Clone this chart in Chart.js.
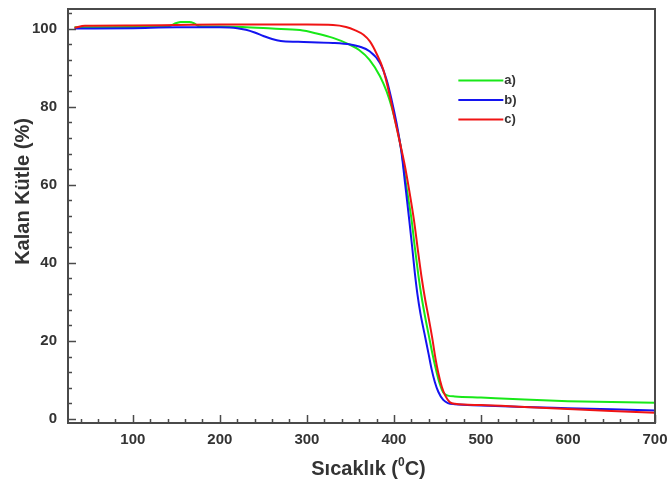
<!DOCTYPE html>
<html>
<head>
<meta charset="utf-8">
<script src="https://cdn.jsdelivr.net/npm/chart.js@4/dist/chart.umd.min.js"></script>
<style>
  html, body { margin: 0; padding: 0; background: #fff; }
  #wrap { width: 672px; height: 486px; }
</style>
</head>
<body>
<div id="wrap"><canvas id="tga" width="672" height="486"></canvas></div>
<script>
// Thermogravimetric curves: remaining mass (%) against temperature (°C)
const seriesNames = ['a)', 'b)', 'c)'];
const seriesColors = ['#18e818', '#1414f0', '#f01414'];

const tempA = [33, 100, 140, 150, 155, 165, 170, 176, 200, 226, 260, 292, 310, 330, 349, 360, 372, 384, 391.6, 397.3, 403, 408.8, 414, 420.3, 424, 428, 432, 436, 440, 444, 448, 452, 456.7, 462, 470, 500, 550, 600, 650, 700];
const massA = [100.3, 100.4, 100.5, 101.4, 101.7, 101.7, 101.4, 100.6, 100.5, 100.4, 100.0, 99.6, 98.8, 97.6, 95.9, 94.5, 92.0, 87.8, 83.9, 80.0, 75.0, 68.5, 60.0, 51.0, 44.0, 37.0, 31.0, 26.0, 21.5, 17.0, 13.0, 9.5, 6.8, 6.0, 5.8, 5.5, 5.0, 4.6, 4.4, 4.2];

const tempB = [33, 100, 150, 200, 220, 230, 240, 250, 260, 270, 290, 330, 350, 360, 372, 384, 391.6, 397.3, 403, 408.8, 413, 417.6, 421, 424, 427, 430.5, 435, 440, 443.3, 447, 451, 456.7, 462, 470, 500, 550, 600, 650, 700];
const massB = [100.0, 100.1, 100.3, 100.3, 100.1, 99.7, 99.0, 98.1, 97.3, 96.8, 96.6, 96.3, 95.9, 95.4, 94.2, 91.2, 86.9, 81.8, 75.8, 68.1, 60.0, 51.0, 44.0, 37.5, 32.0, 27.0, 22.0, 16.5, 12.8, 9.5, 7.0, 4.9, 4.1, 3.8, 3.5, 3.1, 2.8, 2.5, 2.2];

const tempC = [33, 45, 100, 150, 200, 250, 300, 330, 345, 355, 365, 372.4, 380, 387.7, 395.4, 401, 407, 412, 418, 423, 428, 432, 436, 440, 444, 448, 451, 455, 459, 464, 470, 500, 550, 600, 650, 700];
const massC = [100.2, 100.7, 100.8, 100.9, 101.0, 101.0, 101.0, 100.9, 100.4, 99.6, 98.4, 96.7, 93.6, 89.5, 82.6, 76.7, 70.7, 65.5, 58.0, 51.0, 42.5, 36.0, 30.5, 25.8, 20.8, 15.2, 11.8, 8.3, 6.0, 4.4, 3.9, 3.6, 3.1, 2.6, 2.1, 1.6];

const xTickValues = [100, 200, 300, 400, 500, 600, 700];
const yTickValues = [0, 20, 40, 60, 80, 100];
const xMinorStep = 20;
const yMinorStep = 4;
const xRange = [25.5, 700];
const yRange = [-1, 105];

const xTitle = 'Sıcaklık (';
const xTitleSup = '0';
const xTitleEnd = 'C)';
const yTitle = 'Kalan Kütle (%)';

function toPoints(xs, ys) { return xs.map((x, i) => ({ x: x, y: ys[i] })); }

const tempSets = [tempA, tempB, tempC];
const massSets = [massA, massB, massC];
// red drawn on top, then blue, then green
const drawOrder = [2, 1, 0];

const datasets = seriesNames.map((name, i) => ({
  label: name,
  data: toPoints(tempSets[i], massSets[i]),
  borderColor: seriesColors[i],
  borderWidth: 2,
  pointRadius: 0,
  fill: false,
  cubicInterpolationMode: 'monotone',
  order: drawOrder[i]
}));

const FONT = '"Liberation Sans", Arial, sans-serif';
const TEXT = '#333';

// frame, inward tick marks, axis titles and in-plot legend
const decorPlugin = {
  id: 'decor',
  afterDatasetsDraw(chart) {
    const ctx = chart.ctx;
    const a = chart.chartArea;
    const xs = chart.scales.x, ys = chart.scales.y;
    ctx.save();
    ctx.strokeStyle = '#4a4a4a';
    ctx.lineWidth = 1.5;
    // x ticks (pointing up from bottom)
    for (let v = Math.ceil(xRange[0] / xMinorStep) * xMinorStep; v <= xRange[1]; v += xMinorStep) {
      const px = Math.round(xs.getPixelForValue(v)) + 0.5;
      const len = (v % 100 === 0) ? 8 : 4;
      ctx.beginPath(); ctx.moveTo(px, a.bottom); ctx.lineTo(px, a.bottom - len); ctx.stroke();
    }
    // y ticks (pointing right from left)
    for (let v = 0; v <= yRange[1]; v += yMinorStep) {
      const py = Math.round(ys.getPixelForValue(v)) + 0.5;
      const len = (v % 20 === 0) ? 8 : 4;
      ctx.beginPath(); ctx.moveTo(a.left, py); ctx.lineTo(a.left + len, py); ctx.stroke();
    }
    // frame
    ctx.lineWidth = 2;
    ctx.strokeRect(a.left, a.top, a.right - a.left, a.bottom - a.top);

    // legend
    const lx0 = a.left + (a.right - a.left) * 0.665;
    const lx1 = lx0 + 45;
    const ly0 = a.top + (a.bottom - a.top) * 0.173;
    const gap = 19.5;
    ctx.font = 'bold 13px ' + FONT;
    ctx.textBaseline = 'middle';
    ctx.textAlign = 'left';
    seriesNames.forEach((name, i) => {
      const y = ly0 + i * gap;
      ctx.strokeStyle = seriesColors[i];
      ctx.lineWidth = 2;
      ctx.beginPath(); ctx.moveTo(lx0, y); ctx.lineTo(lx1, y); ctx.stroke();
      ctx.fillStyle = TEXT;
      ctx.fillText(name, lx1 + 1, y);
    });

    // x title with superscript
    ctx.fillStyle = TEXT;
    ctx.textBaseline = 'alphabetic';
    const big = 'bold 20px ' + FONT, small = 'bold 12px ' + FONT;
    ctx.font = big;
    const w1 = ctx.measureText(xTitle).width;
    const w3 = ctx.measureText(xTitleEnd).width;
    ctx.font = small;
    const w2 = ctx.measureText(xTitleSup).width;
    const total = w1 + w2 + w3;
    let tx = (a.left + a.right) / 2 - total / 2 + 7;
    const base = a.bottom + 52;
    ctx.font = big; ctx.fillText(xTitle, tx, base); tx += w1;
    ctx.font = small; ctx.fillText(xTitleSup, tx, base - 9); tx += w2;
    ctx.font = big; ctx.fillText(xTitleEnd, tx, base);

    // y title
    ctx.save();
    ctx.translate(29, 191.5);
    ctx.rotate(-Math.PI / 2);
    ctx.textAlign = 'center';
    ctx.font = 'bold 20px ' + FONT;
    ctx.fillText(yTitle, 0, 0);
    ctx.restore();
    ctx.restore();
  }
};

new Chart(document.getElementById('tga'), {
  type: 'line',
  data: { datasets: datasets },
  options: {
    responsive: false,
    animation: false,
    devicePixelRatio: 1,
    layout: { padding: { top: 9, right: 17, left: 0, bottom: 0 } },
    plugins: { legend: { display: false }, tooltip: { enabled: false } },
    scales: {
      x: {
        type: 'linear',
        min: xRange[0], max: xRange[1],
        afterBuildTicks(s) { s.ticks = xTickValues.map(v => ({ value: v })); },
        afterFit(s) { s.height = 63; s.paddingLeft = 0; s.paddingRight = 0; },
        grid: { display: false, drawTicks: false },
        border: { display: false },
        ticks: { color: TEXT, padding: 8, font: { family: FONT, size: 15, weight: 'bold' }, maxRotation: 0 }
      },
      y: {
        type: 'linear',
        min: yRange[0], max: yRange[1],
        afterBuildTicks(s) { s.ticks = yTickValues.map(v => ({ value: v })); },
        afterFit(s) { s.width = 68; s.paddingTop = 0; s.paddingBottom = 0; },
        grid: { display: false, drawTicks: false },
        border: { display: false },
        ticks: { color: TEXT, padding: 11, font: { family: FONT, size: 15, weight: 'bold' } }
      }
    }
  },
  plugins: [decorPlugin]
});
</script>
</body>
</html>
